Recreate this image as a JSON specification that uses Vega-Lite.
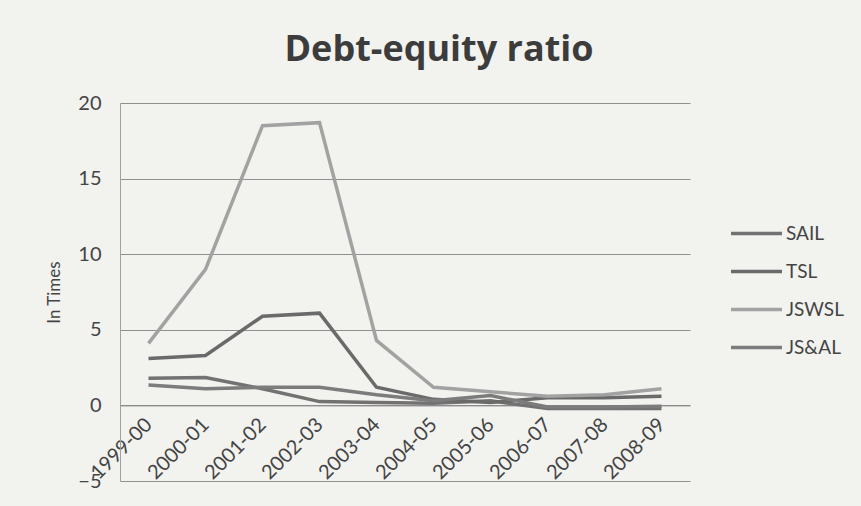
{
  "$schema": "https://vega.github.io/schema/vega-lite/v6.json",
  "width": 570,
  "height": 378,
  "autosize": {"type": "none"},
  "padding": {"left": 120, "top": 103, "right": 171, "bottom": 25},
  "background": "#f2f2ef",
  "title": {
    "text": "Debt-equity ratio",
    "font": "Open Sans",
    "fontSize": 36,
    "fontWeight": "bold",
    "color": "#3c3c3c",
    "anchor": "middle",
    "frame": "group",
    "dx": 34,
    "offset": 24
  },
  "data": {
    "values": [
      {"year": "1999-00", "company": "SAIL", "ratio": 1.8},
      {"year": "2000-01", "company": "SAIL", "ratio": 1.85},
      {"year": "2001-02", "company": "SAIL", "ratio": 1.1},
      {"year": "2002-03", "company": "SAIL", "ratio": 0.25},
      {"year": "2003-04", "company": "SAIL", "ratio": 0.2},
      {"year": "2004-05", "company": "SAIL", "ratio": 0.15},
      {"year": "2005-06", "company": "SAIL", "ratio": 0.3},
      {"year": "2006-07", "company": "SAIL", "ratio": -0.2},
      {"year": "2007-08", "company": "SAIL", "ratio": -0.2},
      {"year": "2008-09", "company": "SAIL", "ratio": -0.2},
      {"year": "1999-00", "company": "TSL", "ratio": 3.1},
      {"year": "2000-01", "company": "TSL", "ratio": 3.3},
      {"year": "2001-02", "company": "TSL", "ratio": 5.9},
      {"year": "2002-03", "company": "TSL", "ratio": 6.1},
      {"year": "2003-04", "company": "TSL", "ratio": 1.2},
      {"year": "2004-05", "company": "TSL", "ratio": 0.4},
      {"year": "2005-06", "company": "TSL", "ratio": 0.2},
      {"year": "2006-07", "company": "TSL", "ratio": 0.5},
      {"year": "2007-08", "company": "TSL", "ratio": 0.5},
      {"year": "2008-09", "company": "TSL", "ratio": 0.6},
      {"year": "1999-00", "company": "JSWSL", "ratio": 4.1},
      {"year": "2000-01", "company": "JSWSL", "ratio": 9.0},
      {"year": "2001-02", "company": "JSWSL", "ratio": 18.5},
      {"year": "2002-03", "company": "JSWSL", "ratio": 18.7},
      {"year": "2003-04", "company": "JSWSL", "ratio": 4.3},
      {"year": "2004-05", "company": "JSWSL", "ratio": 1.2},
      {"year": "2005-06", "company": "JSWSL", "ratio": 0.9},
      {"year": "2006-07", "company": "JSWSL", "ratio": 0.6},
      {"year": "2007-08", "company": "JSWSL", "ratio": 0.7},
      {"year": "2008-09", "company": "JSWSL", "ratio": 1.1},
      {"year": "1999-00", "company": "JS&AL", "ratio": 1.35},
      {"year": "2000-01", "company": "JS&AL", "ratio": 1.1},
      {"year": "2001-02", "company": "JS&AL", "ratio": 1.2},
      {"year": "2002-03", "company": "JS&AL", "ratio": 1.2},
      {"year": "2003-04", "company": "JS&AL", "ratio": 0.7},
      {"year": "2004-05", "company": "JS&AL", "ratio": 0.3},
      {"year": "2005-06", "company": "JS&AL", "ratio": 0.65},
      {"year": "2006-07", "company": "JS&AL", "ratio": -0.1},
      {"year": "2007-08", "company": "JS&AL", "ratio": -0.1},
      {"year": "2008-09", "company": "JS&AL", "ratio": -0.05}
    ]
  },
  "mark": {"type": "line", "strokeWidth": 3.5, "strokeJoin": "miter", "clip": false},
  "encoding": {
    "x": {
      "field": "year",
      "type": "ordinal",
      "scale": {"type": "point", "padding": 0.5},
      "axis": {
        "title": null,
        "offset": -75.6,
        "labelAngle": -45,
        "labelAlign": "right",
        "labelBaseline": "middle",
        "labelFont": "Lato",
        "labelFontSize": 20,
        "labelColor": "#444444",
        "labelPadding": 16,
        "ticks": false,
        "domainColor": "#8a8a8a",
        "domainWidth": 1,
        "grid": false
      }
    },
    "y": {
      "field": "ratio",
      "type": "quantitative",
      "scale": {"domain": [-5, 20], "nice": false},
      "axis": {
        "values": [-5, 0, 5, 10, 15, 20],
        "title": "In Times",
        "titleFont": "Lato",
        "titleFontSize": 17,
        "titleFontWeight": "normal",
        "titleColor": "#444444",
        "titlePadding": 14,
        "labelFont": "Lato",
        "labelFontSize": 20,
        "labelColor": "#444444",
        "labelPadding": 19,
        "ticks": false,
        "domainColor": "#a0a0a0",
        "gridColor": "#8f8f8f",
        "gridWidth": 1
      }
    },
    "color": {
      "field": "company",
      "type": "nominal",
      "sort": ["SAIL", "TSL", "JSWSL", "JS&AL"],
      "scale": {
        "domain": ["SAIL", "TSL", "JSWSL", "JS&AL"],
        "range": ["#727272", "#6a6a6a", "#a2a2a2", "#7c7c7c"]
      },
      "legend": {
        "title": null,
        "orient": "none",
        "legendX": 609,
        "legendY": 103,
        "symbolType": "stroke",
        "symbolSize": 2600,
        "symbolStrokeWidth": 3.5,
        "labelFont": "Lato",
        "labelFontSize": 19,
        "labelColor": "#444444",
        "labelOffset": 2,
        "rowPadding": -12
      }
    }
  },
  "config": {"view": {"stroke": null}}
}
